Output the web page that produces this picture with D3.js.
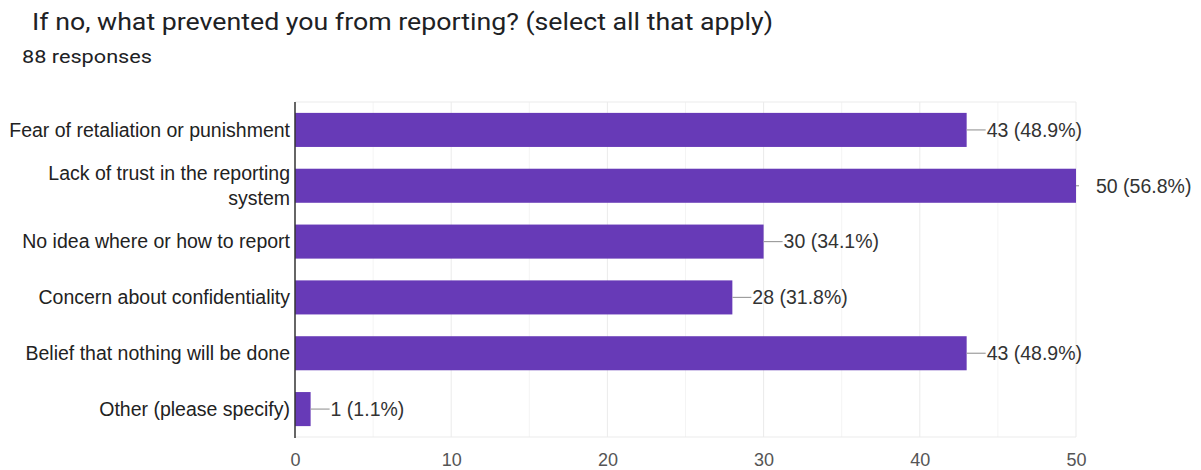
<!DOCTYPE html>
<html>
<head>
<meta charset="utf-8">
<script src="https://cdn.jsdelivr.net/npm/d3@7"></script>
<style>
  html, body { margin: 0; padding: 0; background: #fff; }
  svg { display: block; }
</style>
</head>
<body>
<svg id="chart" width="1201" height="470"></svg>
<script>
// Survey answers (one row per option)
const categories = [
  "Fear of retaliation or punishment",
  "Lack of trust in the reporting system",
  "No idea where or how to report",
  "Concern about confidentiality",
  "Belief that nothing will be done",
  "Other (please specify)"
];
const labelLines = [
  ["Fear of retaliation or punishment"],
  ["Lack of trust in the reporting", "system"],
  ["No idea where or how to report"],
  ["Concern about confidentiality"],
  ["Belief that nothing will be done"],
  ["Other (please specify)"]
];
const counts = [43, 50, 30, 28, 43, 1];
const percents = ["48.9%", "56.8%", "34.1%", "31.8%", "48.9%", "1.1%"];
const xTicks = [0, 10, 20, 30, 40, 50];
const xMinorTicks = [5, 15, 25, 35, 45];
const titleText = "If no, what prevented you from reporting? (select all that apply)";
const subtitleText = "88 responses";

const svg = d3.select("#chart");
const plot = { left: 295, right: 1076, top: 102, bottom: 437 };
const labelFont = "'Liberation Sans', Arial, sans-serif";

const x = d3.scaleLinear().domain([0, 50]).range([plot.left, plot.right]);
const y = d3.scaleBand().domain(categories).range([plot.top, plot.bottom])
  .paddingInner(0.39).paddingOuter(0.195);

// Title and response count
svg.append("text")
  .attr("x", 32).attr("y", 30)
  .attr("font-family", "Roboto, sans-serif").attr("font-size", 23.5)
  .attr("fill", "#202124")
  .attr("textLength", 741).attr("lengthAdjust", "spacingAndGlyphs")
  .text(titleText);
svg.append("text")
  .attr("x", 22).attr("y", 62.5)
  .attr("font-family", "Roboto, sans-serif").attr("font-size", 17.5)
  .attr("fill", "#202124")
  .attr("textLength", 130).attr("lengthAdjust", "spacingAndGlyphs")
  .text(subtitleText);

// Gridlines
const grid = svg.append("g");
grid.selectAll("line.minor").data(xMinorTicks).join("line")
  .attr("class", "minor")
  .attr("x1", d => x(d)).attr("x2", d => x(d))
  .attr("y1", plot.top).attr("y2", plot.bottom)
  .attr("stroke", "#f4f4f4").attr("stroke-width", 1);
grid.selectAll("line.major").data(xTicks.slice(1)).join("line")
  .attr("class", "major")
  .attr("x1", d => x(d)).attr("x2", d => x(d))
  .attr("y1", plot.top).attr("y2", plot.bottom)
  .attr("stroke", "#ebebeb").attr("stroke-width", 1);
grid.append("line")
  .attr("x1", plot.left).attr("x2", plot.right)
  .attr("y1", plot.top).attr("y2", plot.top)
  .attr("stroke", "#ebebeb");
grid.append("line")
  .attr("x1", plot.left).attr("x2", plot.right)
  .attr("y1", plot.bottom).attr("y2", plot.bottom)
  .attr("stroke", "#ebebeb");

// Bars
svg.append("g").selectAll("rect").data(categories).join("rect")
  .attr("x", x(0))
  .attr("y", d => y(d))
  .attr("width", (d, i) => x(counts[i]) - x(0))
  .attr("height", y.bandwidth())
  .attr("fill", "#673ab7");

// Value labels with leader lines
const labels = svg.append("g");
categories.forEach((c, i) => {
  const xe = x(counts[i]);
  const cy = y(c) + y.bandwidth() / 2;
  const lineEnd = Math.min(xe + 19, plot.right + 3);
  labels.append("line")
    .attr("x1", xe).attr("x2", lineEnd)
    .attr("y1", cy).attr("y2", cy)
    .attr("stroke", "#9e9e9e").attr("stroke-width", 1.2);
  labels.append("text")
    .attr("x", xe + 20).attr("y", cy)
    .attr("dy", "0.35em")
    .attr("font-family", labelFont)
    .attr("font-size", 19.5)
    .attr("fill", "#333")
    .text(`${counts[i]} (${percents[i]})`);
});

// Category axis
svg.append("line")
  .attr("x1", plot.left).attr("x2", plot.left)
  .attr("y1", plot.top).attr("y2", plot.bottom + 1)
  .attr("stroke", "#333").attr("stroke-width", 1.5);

const catLabels = svg.append("g");
categories.forEach((c, i) => {
  const lines = labelLines[i];
  const cy = y(c) + y.bandwidth() / 2;
  const lh = 25;
  lines.forEach((t, j) => {
    catLabels.append("text")
      .attr("x", 290)
      .attr("y", cy + (j - (lines.length - 1) / 2) * lh)
      .attr("dy", "0.35em")
      .attr("text-anchor", "end")
      .attr("font-family", labelFont)
      .attr("font-size", 19.5)
      .attr("fill", "#222")
      .text(t);
  });
});

// Value axis tick labels
const xAxis = d3.axisBottom(x).tickValues(xTicks).tickSize(0).tickPadding(0);
const gx = svg.append("g").attr("transform", `translate(0, ${plot.bottom})`).call(xAxis);
gx.select(".domain").remove();
gx.selectAll("text")
  .attr("y", 29)
  .attr("dy", 0)
  .attr("font-family", labelFont)
  .attr("font-size", 18)
  .attr("fill", "#555");
</script>
</body>
</html>
